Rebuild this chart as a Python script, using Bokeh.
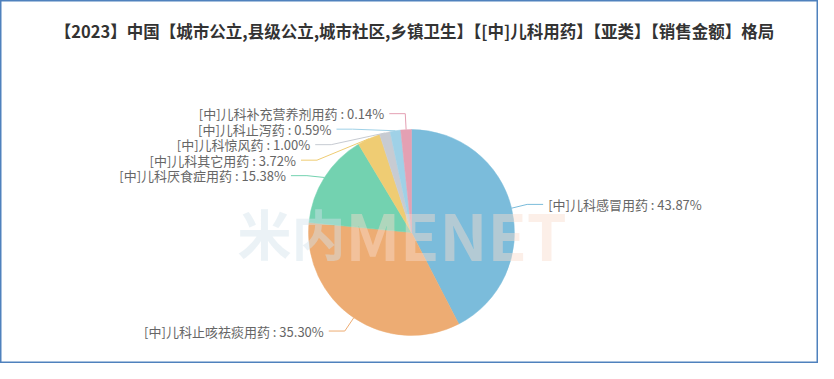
import math
from bokeh.plotting import figure
from bokeh.models import Range1d, ColumnDataSource
from bokeh.core.properties import value
from bokeh.embed import file_html
from bokeh.resources import INLINE

# ---- data ----
title_text = "【2023】中国【城市公立,县级公立,城市社区,乡镇卫生】【[中]儿科用药】【亚类】【销售金额】格局"
categories = ["[中]儿科感冒用药", "[中]儿科止咳祛痰用药", "[中]儿科厌食症用药", "[中]儿科其它用药",
              "[中]儿科惊风药", "[中]儿科止泻药", "[中]儿科补充营养剂用药"]
shares = [43.87, 35.30, 15.38, 3.72, 1.00, 0.59, 0.14]
colors = ["#7bbcdb", "#edac73", "#73d2b0", "#efcc73", "#c7cbd2", "#9fd1e7", "#e4a0b3"]

# ---- layout constants ----
W, H = 818, 363
CX, CY = 411.0, 232.0      # pie centre (y down)
R = 103.0
MIN_ANGLE = 6.0
LEN1, LEN2, GAP, SPACING = 16.0, 16.0, 5.0, 15.5
FONT = "Noto Sans CJK SC"

# ECharts-like minAngle handling
total = sum(shares)
angles = [v / total * 360.0 for v in shares]
rest = 360.0
big_sum = 0.0
small = []
for v, a in zip(shares, angles):
    if a < MIN_ANGLE:
        small.append(True)
        rest -= MIN_ANGLE
    else:
        small.append(False)
        big_sum += v
unit = rest / big_sum
angles = [MIN_ANGLE if s else v * unit for v, s in zip(shares, small)]

starts, ends = [], []
acc = 0.0
for a in angles:
    starts.append(acc)
    acc += a
    ends.append(acc)

p = figure(width=W, height=H, output_backend="svg", toolbar_location=None,
           x_range=Range1d(0, W), y_range=Range1d(-H, 0),
           min_border=0, background_fill_color="white", border_fill_color="white")
p.axis.visible = False
p.grid.visible = False
p.outline_line_color = "#4f81bd"
p.outline_line_width = 2

src = ColumnDataSource(dict(
    x=[CX] * len(shares), y=[-CY] * len(shares),
    start=[math.pi / 2 - math.radians(s) for s in starts],
    end=[math.pi / 2 - math.radians(e) for e in ends],
    color=colors))
p.wedge(x="x", y="y", radius=R, start_angle="start", end_angle="end",
        direction="clock", fill_color="color", line_color="color", line_width=0.5, source=src)

# watermark
p.text(x=[345], y=[-232], text=["米内"], text_align="right", text_baseline="middle",
       text_font=value(FONT), text_font_style="bold", text_font_size="54px",
       text_color="#d3e2ea", text_alpha=0.45)
p.text(x=[345], y=[-232], text=["MENET"], text_align="left", text_baseline="middle",
       text_font=value(FONT), text_font_style="bold", text_font_size="64px",
       text_color="#f8dccb", text_alpha=0.45)

# label layout
items = []
for i, (s, e) in enumerate(zip(starts, ends)):
    mid = math.radians((s + e) / 2)
    side = 1 if math.sin(mid) >= 0 else -1
    ex = CX + R * math.sin(mid)
    ey = CY - R * math.cos(mid)
    ly = CY - (R + LEN1) * math.cos(mid)
    items.append(dict(i=i, side=side, ex=ex, ey=ey, y=ly))

for side in (1, -1):
    grp = sorted([it for it in items if it["side"] == side], key=lambda d: d["y"])
    for k in range(1, len(grp)):
        if grp[k]["y"] < grp[k - 1]["y"] + SPACING:
            grp[k]["y"] = grp[k - 1]["y"] + SPACING

Re = R + LEN1
for it in items:
    dy = it["y"] - CY
    if abs(dy) < Re:
        bx = CX + it["side"] * math.sqrt(Re * Re - dy * dy)
    else:
        bx = it["ex"]
    if it["side"] < 0:
        bx = min(bx, it["ex"])
    else:
        bx = max(bx, it["ex"])
    lx = bx + it["side"] * LEN2
    i = it["i"]
    p.line([it["ex"], bx, lx], [-it["ey"], -it["y"], -it["y"]], line_color=colors[i], line_width=1)
    p.text(x=[lx + it["side"] * GAP], y=[-it["y"]],
           text=[f"{categories[i]} : {shares[i]:.2f}%"],
           text_align="left" if it["side"] > 0 else "right", text_baseline="middle",
           text_font=value(FONT), text_font_size="13px", text_color="#666666")

# title
p.text(x=[414], y=[-30], text=[title_text], text_align="center", text_baseline="middle",
       text_font=value(FONT), text_font_style="bold", text_font_size="16.5px", text_color="#333333")

open("out.html", "w").write(file_html(p, INLINE))
